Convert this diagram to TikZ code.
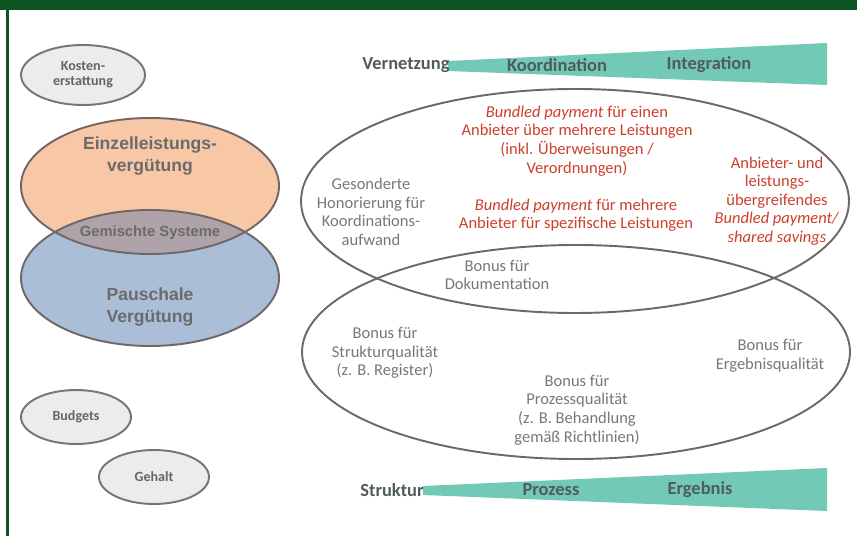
\documentclass[tikz,border=0pt]{standalone}
\usepackage{xcolor}
\usepackage{fontspec}
\setmainfont{Carlito}
\newfontfamily\arialfont{Liberation Sans}
\usetikzlibrary{shapes.geometric, positioning}

\definecolor{darkgreen}{HTML}{0B5320}
\definecolor{rimgray}{HTML}{7D7272}
\definecolor{txtgray}{HTML}{777777}
\definecolor{lblgray}{HTML}{505C5C}
\definecolor{payred}{HTML}{CD3F2A}
\definecolor{wedgeteal}{HTML}{72CAB6}
\definecolor{einzelfill}{HTML}{F8C8A6}
\definecolor{pauschfill}{HTML}{AABED7}
\definecolor{mixedfill}{HTML}{AEA3A8}
\definecolor{pillfill}{HTML}{ECECEF}

\begin{document}
\begin{tikzpicture}[x=0.02cm, y=-0.02cm,
    pill/.style={ellipse, draw=rimgray, line width=1.1pt, fill=pillfill, inner sep=0pt,
        align=center, text=txtgray!85!black, font=\fontsize{8}{8.5}\selectfont\bfseries},
    bigoval/.style={draw=rimgray!90!black, line width=1.1pt},
    system/.style={align=center, text=txtgray!90!black, font=\arialfont\fontsize{10}{12.5}\selectfont\bfseries},
    body/.style={align=center, text=txtgray, font=\fontsize{9.4}{10.6}\selectfont},
    paytext/.style={body, text=payred},
    scalelbl/.style={text=lblgray, font=\fontsize{10.5}{12}\selectfont\bfseries},
    wedge/.style={fill=wedgeteal, draw=none}]

    \useasboundingbox (0,0) rectangle (857,536);

    % frame
    \fill[darkgreen] (0,0) rectangle (857,10);
    \fill[darkgreen] (6,0) rectangle (9,536);

    % left column: payment systems
    \node[pill, minimum width=2.48cm, minimum height=1.2cm] (kosten) at (83,75) {Kosten-\\erstattung};

    \fill[pauschfill] (150,278) ellipse [x radius=129, y radius=68];
    \fill[einzelfill] (150,186) ellipse [x radius=129, y radius=68];
    \begin{scope}
        \clip (150,186) ellipse [x radius=129, y radius=68];
        \fill[mixedfill] (150,278) ellipse [x radius=129, y radius=68];
    \end{scope}
    \draw[bigoval] (150,186) ellipse [x radius=129, y radius=68];
    \draw[bigoval] (150,278) ellipse [x radius=129, y radius=68];

    \node[system] (einzel) at (150,156) {Einzelleistungs-\\vergütung};
    \node[system, font=\arialfont\fontsize{8.4}{10}\selectfont\bfseries] (gemischt) at (150,233) {Gemischte Systeme};
    \node[system] (pauschal) at (150,307) {Pauschale\\Vergütung};

    \node[pill, minimum width=2.2cm, minimum height=1.08cm] (budgets) at (76,417) {Budgets};
    \node[pill, minimum width=2.2cm, minimum height=1.08cm] (gehalt) at (154,477) {Gehalt};

    % scales
    \fill[wedge] (448,61) -- (827,43) -- (827,85) -- (448,71) -- cycle;
    \fill[wedge] (423,486) -- (827,468) -- (827,511) -- (423,495) -- cycle;

    \node[scalelbl] (vernetzung) at (406,65) {Vernetzung};
    \node[scalelbl] (koordination) at (557,65) {Koordination};
    \node[scalelbl] (integration) at (709,65) {Integration};

    \node[scalelbl] (struktur) at (392,490) {Struktur};
    \node[scalelbl] (prozess) at (551,490) {Prozess};
    \node[scalelbl] (ergebnis) at (700,490) {Ergebnis};

    % coordination and quality ovals
    \draw[bigoval] (575,201) ellipse [x radius=274, y radius=112];
    \draw[bigoval] (576,352) ellipse [x radius=274, y radius=107];

    \node[body] (honorierung) at (371,212) {Gesonderte\\Honorierung für\\Koordinations-\\aufwand};
    \node[paytext] (einanbieter) at (577,141) {\textit{Bundled payment} für einen\\Anbieter über mehrere Leistungen\\(inkl. Überweisungen /\\Verordnungen)};
    \node[paytext] (mehranbieter) at (576,215) {\textit{Bundled payment} für mehrere\\Anbieter für spezifische Leistungen};
    \node[paytext] (uebergreifend) at (777,201) {Anbieter- und\\leistungs-\\übergreifendes\\\textit{Bundled payment/}\\\textit{shared savings}};

    \node[body] (doku) at (497,275) {Bonus für\\Dokumentation};
    \node[body] (strukturq) at (385,353) {Bonus für\\Strukturqualität\\(z. B. Register)};
    \node[body] (prozessq) at (577,410) {Bonus für\\Prozessqualität\\(z. B. Behandlung\\gemäß Richtlinien)};
    \node[body] (ergebnisq) at (770,356) {Bonus für\\Ergebnisqualität};
\end{tikzpicture}
\end{document}
